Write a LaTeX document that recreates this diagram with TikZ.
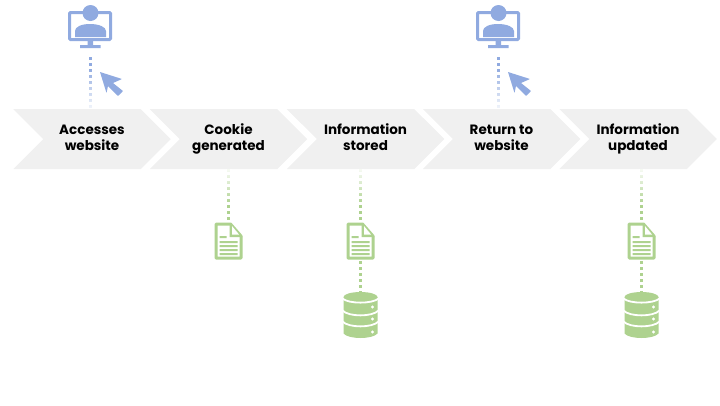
\documentclass[tikz,border=0pt]{standalone}
\usepackage{fontspec}
\setmainfont{Poppins}
\usetikzlibrary{shapes.symbols,fadings,calc}
\definecolor{stepgray}{HTML}{F0F0F0}
\definecolor{iconblue}{HTML}{90AAE0}
\definecolor{icongreen}{HTML}{AED28F}
\newcommand{\steplabel}[2]{\strut #1\\\strut #2}
\tikzset{
	x=1pt,y=1pt,
	stepbox/.style={shape=signal,signal from=west,signal to=east,signal pointer angle=90,fill=stepgray,minimum width=157.5pt,minimum height=60pt,inner sep=0pt,outer sep=0pt,font=\bfseries\fontsize{13.5}{16}\selectfont,align=center},
	iconbox/.style 2 args={minimum width=#1,minimum height=#2,inner sep=0pt,outer sep=0pt},
	bluelink/.style={draw=iconblue,line width=3pt,dash pattern=on 3pt off 3pt},
	greenlink/.style={draw=icongreen,line width=3pt,dash pattern=on 3pt off 3pt},
	screenicon/.pic={
		\draw[iconblue,line width=3pt,rounded corners=1pt] (-20.5,17.5) rectangle (20.5,-9.5);
		\fill[iconblue] (-15,-7) -- (-15,-1) .. controls (-15,3) and (-9,6) .. (0,6) .. controls (9,6) and (16,3) .. (16,-1) -- (16,-7) -- cycle;
		\fill[iconblue] (0.5,17) circle (8);
		\fill[iconblue] (-2.5,-11) rectangle (3,-15) (-10,-15) rectangle (10.5,-18);
	},
	cursoricon/.pic={
		\fill[iconblue,rounded corners=0.5pt] (-11,10) -- (11,3) -- (2,-1) -- (12,-9) -- (7,-14) -- (-3,-4) -- (-4.5,-11) -- cycle;
	},
	docicon/.pic={
		\draw[icongreen,line width=3pt,line join=round] (-12.5,17) -- (2,17) -- (12.5,5) -- (12.5,-17) -- (-12.5,-17) -- cycle;
		\fill[icongreen] (1,18) -- (1,4) -- (14,4) -- cycle;
		\fill[white] (3.5,15) -- (3.5,6.5) -- (10.5,6.5) -- cycle;
		\fill[icongreen] (-9,5) rectangle (-2,3) (-9,0) rectangle (9,-2) (-9,-4) rectangle (9,-6) (-9,-8) rectangle (9,-10) (-9,-12) rectangle (9,-14);
	},
	dbicon/.pic={
		\fill[icongreen] (-17,17) -- (-17,-19.5) .. controls (-12,-25.5) and (12,-25.5) .. (17,-19.5) -- (17,17) -- cycle;
		\fill[icongreen] (0,17) ellipse (17 and 5);
		\draw[white,line width=1.8pt] (-18,15.5) .. controls (-12,10) and (12,10) .. (18,15.5);
		\draw[white,line width=1.8pt] (-18,3.5) .. controls (-12,-3) and (12,-3) .. (18,3.5);
		\draw[white,line width=1.8pt] (-18,-7.5) .. controls (-12,-14) and (12,-14) .. (18,-7.5);
		\fill[white] (12,7) circle (1.6) (12,-5) circle (1.6) (12,-18) circle (1.6);
	},
}
\begin{document}
\begin{tikzpicture}
	\useasboundingbox (0,0) rectangle (720,-405);
	\node[stepbox] (access) at (92,-139) {\steplabel{Accesses}{website}};
	\node[stepbox] (cookie) at (228.5,-139) {\steplabel{Cookie}{generated}};
	\node[stepbox] (stored) at (365.5,-139) {\steplabel{Information}{stored}};
	\node[stepbox] (return) at (501.5,-139) {\steplabel{Return to}{website}};
	\node[stepbox] (updated) at (638,-139) {\steplabel{Information}{updated}};

	\node[iconbox={44pt}{54pt}] (screena) at (90,-30) {};
	\node[iconbox={44pt}{54pt}] (screenb) at (498,-30) {};
	\node[iconbox={30pt}{40pt}] (doca) at (228.5,-241) {};
	\node[iconbox={30pt}{40pt}] (docb) at (360.5,-241) {};
	\node[iconbox={30pt}{40pt}] (docc) at (641.5,-241) {};
	\node[iconbox={34pt}{44pt}] (dbb) at (360.5,-314) {};
	\node[iconbox={34pt}{44pt}] (dbc) at (641.5,-314) {};

	\pic at (screena) {screenicon};
	\pic at (screenb) {screenicon};
	\pic at (111,-82) {cursoricon};
	\pic at (519,-82) {cursoricon};
	\pic at (doca) {docicon};
	\pic at (docb) {docicon};
	\pic at (docc) {docicon};
	\pic at (dbb) {dbicon};
	\pic at (dbc) {dbicon};

	\foreach \A/\B in {screena/access,screenb/return}{
		\draw[bluelink] (\A.south) -- (\A |- \B.north);
		\fill[white,fill opacity=.9,path fading=north] ($(\A |- \B.north)!.8!(\A.south)+(-3,0)$) rectangle ($(\A |- \B.north)+(3,0)$);
	}
	\foreach \A/\B in {doca/cookie,docb/stored,docc/updated}{
		\draw[greenlink] (\A |- \B.south) -- (\A.north);
		\fill[white,fill opacity=.9,path fading=south] ($(\A |- \B.south)+(-3,0)$) rectangle ($(\A |- \B.south)!.7!(\A.north)+(3,0)$);
	}
	\draw[greenlink] (docb) ++(0,-20) -- (dbb.north);
	\draw[greenlink] (docc) ++(0,-20) -- (dbc.north);
\end{tikzpicture}
\end{document}
